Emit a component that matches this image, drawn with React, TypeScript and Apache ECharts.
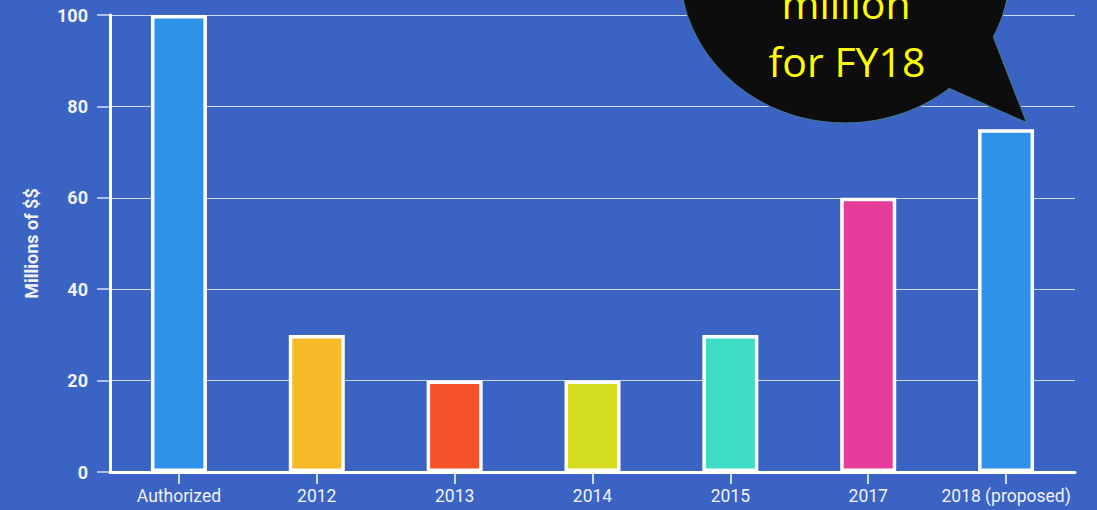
import React, { useEffect, useRef } from "react";
import * as echarts from "echarts";

const categories = ["Authorized", "2012", "2013", "2014", "2015", "2017", "2018 (proposed)"];
const values = [100, 30, 20, 20, 30, 60, 75];
const barColors = ["#2E93E8", "#F7B928", "#F5502A", "#D4DC20", "#3EDCC4", "#E53C9C", "#2E93E8"];
const bubbleLines = ["million", "for FY18"];

export default function App() {
  const ref = useRef<HTMLDivElement>(null);
  useEffect(() => {
    if (!ref.current) return;
    const chart = echarts.init(ref.current, null, { renderer: "svg" });
    const white = "#FFFFFF";
    chart.setOption({
      animation: false,
      backgroundColor: "#3A63C4",
      grid: { left: 110, right: 22, top: 15, bottom: 38, containLabel: false },
      xAxis: {
        type: "category",
        data: categories,
        axisLine: { show: true, lineStyle: { color: white, width: 3 } },
        axisTick: { show: true, alignWithLabel: true, length: 12, lineStyle: { color: white, width: 1.5 } },
        axisLabel: { interval: 0, color: "#F2F2FA", fontFamily: "Roboto", fontSize: 17.5, margin: 15 },
      },
      yAxis: {
        type: "value",
        min: 0,
        max: 100,
        interval: 20,
        name: "Millions of $$",
        nameLocation: "middle",
        nameGap: 70,
        nameRotate: 90,
        nameTextStyle: { color: "#F2F2FA", fontFamily: "Roboto", fontWeight: "bold", fontSize: 18 },
        axisLine: { show: true, lineStyle: { color: white, width: 3 } },
        axisTick: { show: true, length: 13, lineStyle: { color: "rgba(255,255,255,0.8)", width: 1.5 } },
        axisLabel: { color: "#F2F2FA", fontFamily: "Roboto", fontWeight: "bold", fontSize: 18, margin: 22 },
        splitLine: { show: true, lineStyle: { color: "rgba(255,255,255,0.75)", width: 1 } },
      },
      series: [
        {
          type: "bar",
          data: values.map((v, i) => ({
            value: v,
            itemStyle: { color: barColors[i], borderColor: white, borderWidth: 3.5 },
          })),
          barWidth: 56,
        },
      ],
      graphic: [
        {
          type: "ellipse",
          shape: { cx: 845, cy: -30, rx: 165, ry: 153 },
          style: { fill: "#0D0D0D", stroke: "#41719C", lineWidth: 1.5 },
          z: 100,
        },
        {
          type: "polygon",
          shape: { points: [[985, 15], [1027, 123], [925, 78]] },
          style: { fill: "#0D0D0D", stroke: "#41719C", lineWidth: 1.5 },
          z: 101,
        },
        {
          type: "ellipse",
          shape: { cx: 845, cy: -30, rx: 164.3, ry: 152.3 },
          style: { fill: "#0D0D0D" },
          z: 102,
        },
        {
          type: "text",
          x: 846,
          y: 23,
          style: {
            text: bubbleLines[0],
            fill: "#FFFF00",
            font: "41px 'Open Sans'",
            textAlign: "center",
            textVerticalAlign: "bottom",
          },
          z: 103,
        },
        {
          type: "text",
          x: 847,
          y: 81,
          style: {
            text: bubbleLines[1],
            fill: "#FFFF00",
            font: "41px 'Open Sans'",
            textAlign: "center",
            textVerticalAlign: "bottom",
          },
          z: 103,
        },
      ],
    });
    return () => chart.dispose();
  }, []);
  return <div ref={ref} style={{ position: "fixed", left: 0, top: 0, width: 1097, height: 510 }} />;
}
